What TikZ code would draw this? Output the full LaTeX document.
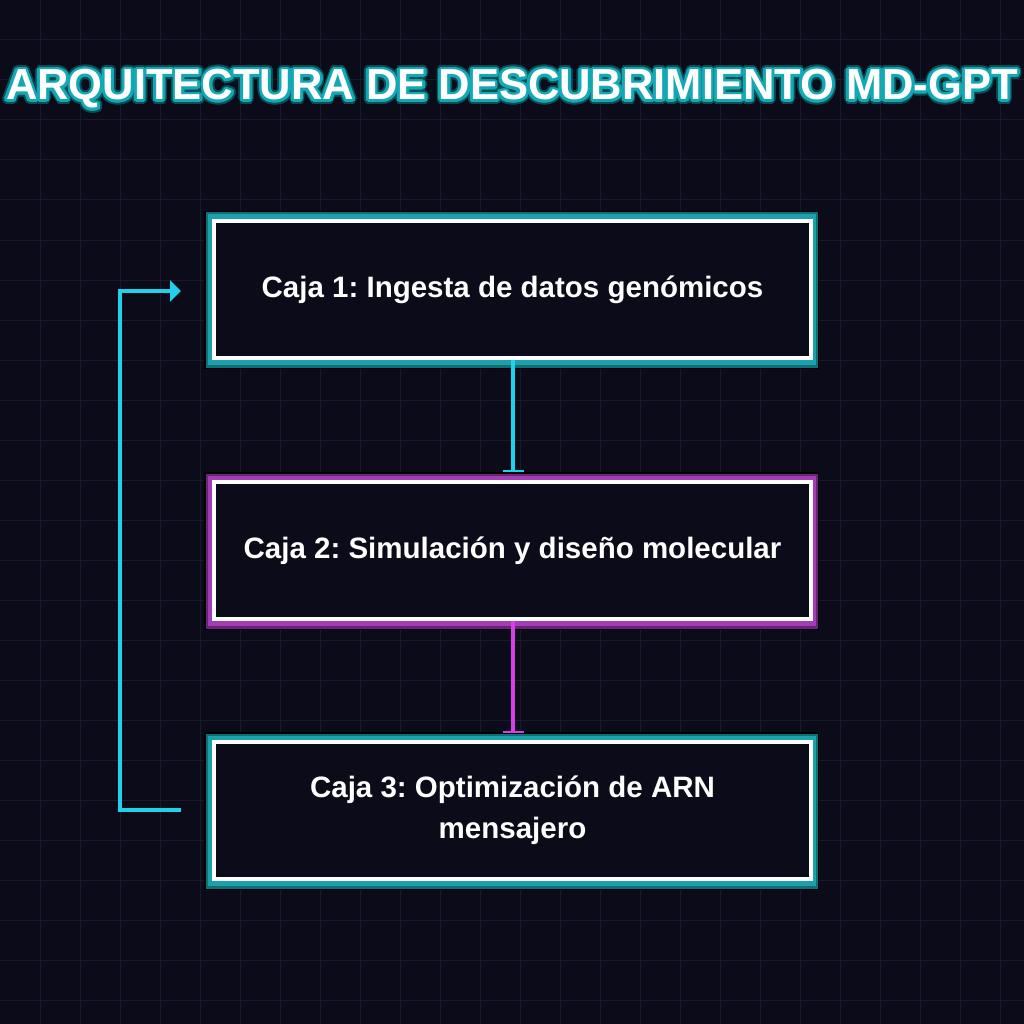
\documentclass[tikz,border=0pt]{standalone}
\usepackage{fontspec}
\setmainfont{Liberation Sans}
\usepackage{contour}
\usetikzlibrary{arrows.meta,calc}
\definecolor{bgc}{HTML}{0B0B1A}
\definecolor{gridc}{HTML}{1A1A2E}
\definecolor{cyanc}{HTML}{1FD1EA}
\definecolor{magc}{HTML}{D63EE8}
\definecolor{tealA}{HTML}{1BA0AD}
\definecolor{tealB}{HTML}{0F6E76}
\definecolor{purA}{HTML}{A43CB8}
\definecolor{purB}{HTML}{6A2378}
\definecolor{titleteal}{HTML}{14A8B4}
\definecolor{titledark}{HTML}{0A4E55}
\tikzset{
  boxtext/.style={text=white, font=\bfseries\fontsize{29.5}{41}\selectfont, align=center},
  titletext/.style={font=\bfseries\fontsize{43.5}{50}\selectfont, inner sep=0pt, anchor=base},
  flowline/.style={line width=4pt},
}
\newcommand{\glowbox}[5]{%
  \fill[black] ($(#2)+(-308.5,-78.5)$) rectangle ($(#2)+(306.5,79.5)$);
  \fill[#4] ($(#2)+(-307,-77)$) rectangle ($(#2)+(305,78)$);
  \fill[#3] ($(#2)+(-305,-75)$) rectangle ($(#2)+(303,75.5)$);
  \fill[white] ($(#2)+(-300.5,-70.5)$) rectangle ($(#2)+(300.5,70.5)$);
  \fill[bgc] ($(#2)+(-296.5,-66.5)$) rectangle ($(#2)+(296.5,66.5)$);
  \node[boxtext, minimum width=601pt, minimum height=141pt, inner sep=0pt] (#1) at (#2) {#5};
}
\frenchspacing
\begin{document}
\begin{tikzpicture}[x=1pt,y=-1pt]
\useasboundingbox (0,0) rectangle (1024,1024);
\fill[bgc] (0,0) rectangle (1024,1024);
\foreach \g in {40,80,...,1000} {
  \draw[gridc, line width=1pt] (\g,0) -- (\g,1024);
  \draw[gridc, line width=1pt] (0,\g) -- (1024,\g);
}
% title
\contourlength{4.6pt}
\node[titletext, text=titledark] (titleglow) at (512,100) {\contour{titledark}{ARQUITECTURA DE DESCUBRIMIENTO MD-GPT}};
\contourlength{2.8pt}
\node[titletext, text=white] (title) at (512,100) {\contour{titleteal}{ARQUITECTURA DE DESCUBRIMIENTO MD-GPT}};

\coordinate (c1) at (512.5,289.5);
\coordinate (c2) at (512.5,550.5);
\coordinate (c3) at (512.5,810.5);
\glowbox{b1}{c1}{tealA}{tealB}{Caja 1: Ingesta de datos genómicos}
\glowbox{b2}{c2}{purA}{purB}{Caja 2: Simulación y diseño molecular}
\glowbox{b3}{c3}{tealA}{tealB}{Caja 3: Optimización de ARN\\mensajero}

% connectors
\coordinate (t2) at (513,472);
\coordinate (t3) at (513,733);
\draw[flowline, cyanc, -{Rectangle[length=2pt,width=21pt]}] (b1.south -| t2) -- (t2);
\draw[flowline, magc, -{Rectangle[length=2pt,width=21pt]}] (b2.south -| t3) -- (t3);

\coordinate (lp1) at (181,810);
\coordinate (lp2) at (120,810);
\coordinate (lp3) at (120,291);
\coordinate (lp4) at (181,291);
\draw[flowline, cyanc, -{Triangle[length=11pt,width=21pt]}] (lp1) -- (lp2) -- (lp3) -- (lp4);
\end{tikzpicture}
\end{document}
